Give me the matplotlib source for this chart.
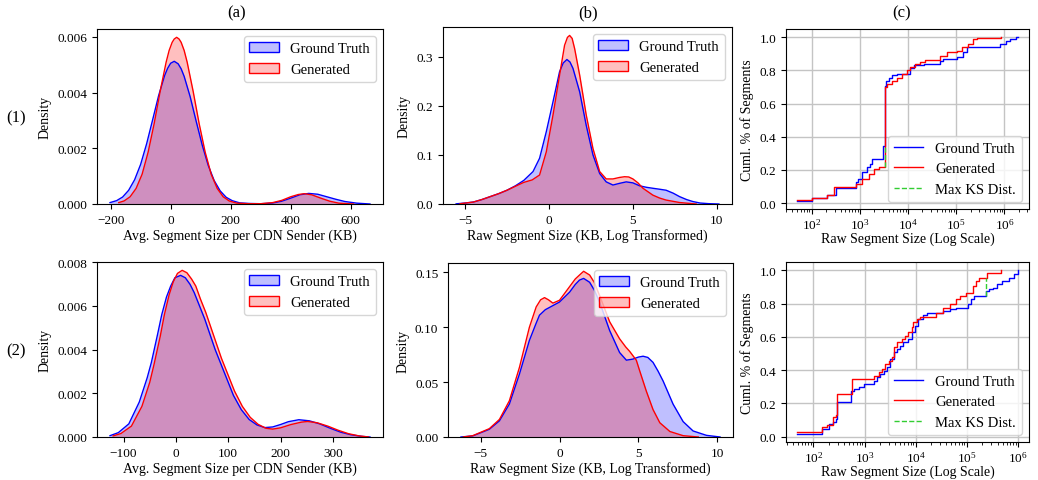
import matplotlib.pyplot as plt
from matplotlib.colors import to_rgba
from matplotlib.patches import Patch
from matplotlib.ticker import MultipleLocator

plt.rcParams["font.family"] = ["Liberation Serif", "DejaVu Serif"]
plt.rcParams["mathtext.fontset"] = "stix"
plt.rcParams["font.size"] = 10
plt.rcParams["xtick.labelsize"] = 9.5
plt.rcParams["ytick.labelsize"] = 9.5

GT_COLOR = "blue"
GEN_COLOR = "red"
KS_COLOR = "limegreen"

# ---- row 1, column (a): avg segment size per CDN sender, density
a1_gt_x = [-202, -180, -160, -140, -120, -100, -80, -60, -40, -20, -10, 0, 12, 25, 35, 45, 65, 85,
           105, 125, 145, 165, 185, 205, 230, 260, 300, 340, 370, 400, 430, 460, 490, 520, 550,
           580, 620, 664]
a1_gt_y = [0.00005, 0.00012, 0.00025, 0.00049, 0.00087, 0.00142, 0.00216, 0.00302, 0.00389,
           0.00461, 0.00487, 0.00505, 0.00512, 0.00503, 0.00485, 0.00458, 0.00385, 0.00297,
           0.00212, 0.00139, 0.00084, 0.00047, 0.00024, 0.00012, 0.00004, 0.00002, 0.00001,
           0.000035, 0.0001, 0.00021, 0.00033, 0.00038, 0.00035, 0.00026, 0.00017, 0.00009,
           0.00003, 0.0]
a1_gen_x = [-173, -155, -135, -115, -95, -75, -55, -35, -15, -5, 5, 12, 20, 28, 35, 45, 55, 75,
            95, 115, 135, 155, 175, 195, 220, 260, 300, 340, 370, 400, 425, 445, 470, 500, 530,
            560, 609]
a1_gen_y = [0.00005, 0.00011, 0.00026, 0.00056, 0.00107, 0.00186, 0.00288, 0.00404, 0.00509,
            0.00551, 0.0058, 0.00592, 0.00598, 0.00592, 0.0058, 0.00551, 0.00509, 0.00404,
            0.00288, 0.00186, 0.00107, 0.00056, 0.00026, 0.00011, 0.00003, 0.00001, 0.00001,
            0.00005, 0.00013, 0.00026, 0.00034, 0.00037, 0.00033, 0.00021, 0.0001, 0.00003, 0.0]

# ---- row 2, column (a)
a2_gt_x = [-126, -110, -90, -70, -55, -47, -35, -27, -18, -10, -2, 9, 18, 27, 35, 45, 55, 65,
           75, 85, 95, 110, 125, 140, 155, 170, 185, 200, 215, 235, 255, 275, 295, 315, 335, 355,
           371]
a2_gt_y = [0.00006, 0.0002, 0.0006, 0.0016, 0.0027, 0.0034, 0.0047, 0.0056, 0.0064, 0.0069,
           0.00728, 0.00739, 0.00728, 0.00698, 0.0066, 0.006, 0.0054, 0.0047, 0.0040, 0.0034,
           0.0028, 0.0019, 0.00125, 0.0008, 0.00055, 0.00043, 0.00046, 0.00057, 0.0007,
           0.00079, 0.00074, 0.0006, 0.0004, 0.00022, 0.0001, 0.00003, 0.0]
a2_gen_x = [-120, -105, -85, -65, -50, -42, -30, -22, -13, -5, 3, 12, 21, 30, 38, 47, 57, 67,
            77, 87, 97, 112, 127, 142, 157, 172, 185, 200, 220, 240, 252, 270, 290, 310, 330,
            350, 368]
a2_gen_y = [0.00005, 0.00016, 0.0005, 0.0014, 0.0025, 0.0033, 0.0046, 0.0056, 0.0065, 0.0071,
            0.00748, 0.00762, 0.00751, 0.00722, 0.0069, 0.0063, 0.0057, 0.005, 0.0043, 0.0036,
            0.003, 0.0021, 0.0014, 0.0009, 0.00058, 0.0004, 0.00036, 0.00042, 0.00057, 0.00068,
            0.00071, 0.00065, 0.0005, 0.00031, 0.00015, 0.00005, 0.0]

# ---- row 1, column (b): raw segment size, log transformed
b1_gt_x = [-5.53, -5.0, -4.5, -4.0, -3.5, -3.0, -2.5, -2.0, -1.5, -0.95, -0.56, -0.16, 0.24,
           0.63, 0.85, 1.07, 1.25, 1.43, 1.83, 2.22, 2.62, 3.02, 3.41, 3.81, 4.2, 4.6, 5.0, 5.4,
           5.8, 6.19, 6.6, 6.98, 7.4, 7.78, 8.2, 8.57, 9.0, 9.5, 10.12]
b1_gt_y = [0.0003, 0.002, 0.004, 0.009, 0.015, 0.021, 0.028, 0.037, 0.048, 0.066, 0.093, 0.147,
           0.208, 0.269, 0.287, 0.294, 0.289, 0.276, 0.228, 0.16, 0.1, 0.062, 0.045, 0.0386,
           0.042, 0.045, 0.043, 0.037, 0.034, 0.032, 0.03, 0.028, 0.022, 0.015, 0.009, 0.005,
           0.002, 0.0007, 0.0]
b1_gen_x = [-5.3, -4.5, -4.0, -3.5, -3.0, -2.5, -2.0, -1.5, -1.0, -0.56, -0.16, 0.24, 0.63,
            0.93, 1.1, 1.23, 1.38, 1.53, 1.83, 2.22, 2.62, 3.02, 3.41, 3.81, 4.2, 4.5, 4.75, 5.0,
            5.3, 5.6, 6.19, 6.6, 6.98, 7.78, 8.77]
b1_gen_y = [0.0005, 0.004, 0.009, 0.015, 0.021, 0.028, 0.036, 0.044, 0.049, 0.059, 0.106, 0.181,
            0.262, 0.323, 0.339, 0.343, 0.337, 0.316, 0.262, 0.181, 0.113, 0.066, 0.051, 0.051,
            0.054, 0.0555, 0.055, 0.051, 0.043, 0.032, 0.018, 0.012, 0.008, 0.003, 0.0]

# ---- row 2, column (b)
b2_gt_x = [-6.25, -5.5, -4.45, -3.81, -3.18, -2.54, -1.91, -1.5, -1.27, -0.9, -0.64, 0.0, 0.64,
           1.0, 1.27, 1.53, 1.91, 2.2, 2.54, 3.18, 3.81, 4.24, 4.66, 5.0, 5.3, 5.6, 5.93, 6.25,
           6.57, 7.2, 7.84, 8.47, 9.32, 10.18]
b2_gt_y = [0.0, 0.001, 0.007, 0.0147, 0.03, 0.0574, 0.088, 0.103, 0.111, 0.116, 0.118, 0.123,
           0.132, 0.139, 0.143, 0.1445, 0.141, 0.134, 0.123, 0.097, 0.077, 0.070, 0.071, 0.0728,
           0.0736, 0.0725, 0.068, 0.06, 0.051, 0.030, 0.014, 0.0055, 0.0015, 0.0]
b2_gen_x = [-6.1, -5.5, -4.45, -3.81, -3.18, -2.54, -1.91, -1.48, -1.2, -0.95, -0.7, -0.42, 0.0,
            0.64, 1.0, 1.27, 1.53, 1.91, 2.2, 2.54, 3.18, 3.81, 4.2, 4.45, 4.87, 5.08, 5.5, 5.93,
            6.36, 7.0, 7.84, 8.8]
b2_gen_y = [0.0, 0.0012, 0.0076, 0.016, 0.033, 0.0635, 0.100, 0.1185, 0.125, 0.127, 0.125,
            0.122, 0.1246, 0.137, 0.144, 0.1476, 0.151, 0.1476, 0.141, 0.129, 0.105, 0.0895,
            0.082, 0.078, 0.070, 0.0605, 0.042, 0.025, 0.013, 0.005, 0.0012, 0.0]

# ---- column (c): cumulative fraction of segments vs raw size (KB), step points
c1_gt_size = [50, 100, 207, 318, 820, 916, 1127, 1383, 1620, 1811, 3055, 3410, 3575, 3990,
              4675, 5930, 11170, 13090, 21030, 46400, 54400, 102400, 140500, 164500, 192800,
              801000, 1099000, 1288000, 1766000, 1914000]
c1_gt_frac = [0.014, 0.03, 0.048, 0.094, 0.125, 0.145, 0.185, 0.215, 0.235, 0.265, 0.345, 0.707,
              0.737, 0.757, 0.773, 0.777, 0.817, 0.833, 0.841, 0.857, 0.867, 0.88, 0.908, 0.938,
              0.942, 0.96, 0.978, 0.99, 1.0, 1.0]
c1_gen_size = [50, 100, 207, 293, 820, 1127, 1546, 1960, 2485, 3410, 3690, 4675, 5930, 7520,
               9530, 11170, 14160, 17950, 22750, 46400, 63700, 102400, 129700, 178000, 226000,
               264700, 867000]
c1_gen_frac = [0.02, 0.03, 0.05, 0.098, 0.115, 0.145, 0.175, 0.205, 0.22, 0.697, 0.717, 0.737,
               0.757, 0.777, 0.80, 0.82, 0.84, 0.851, 0.861, 0.888, 0.908, 0.918, 0.938, 0.958,
               0.988, 0.998, 1.0]
c1_ks_x = 3300
c1_ks_y = [0.22, 0.345]

c2_gt_size = [48, 145, 204, 237, 275, 296, 552, 622, 777, 970, 1517, 1760, 2040, 2366, 2746,
              3186, 3696, 4285, 4977, 5768, 7211, 8375, 9706, 11270, 14070, 16330, 34280, 46210,
              62230, 104500, 121300, 140600, 236600, 274500, 318500, 398000, 497700, 670000,
              837000, 1000000]
c2_gt_frac = [0.018, 0.048, 0.078, 0.088, 0.108, 0.208, 0.277, 0.287, 0.297, 0.317, 0.337, 0.357,
              0.377, 0.397, 0.417, 0.467, 0.507, 0.527, 0.547, 0.567, 0.587, 0.627, 0.667, 0.707,
              0.733, 0.741, 0.756, 0.766, 0.772, 0.796, 0.826, 0.846, 0.876, 0.886, 0.896, 0.916,
              0.936, 0.956, 0.976, 1.0]
c2_gen_size = [48, 145, 189, 237, 275, 287, 577, 1517, 1893, 2198, 2547, 2957, 3430, 3696, 4285,
               5355, 6223, 7211, 8375, 9016, 10450, 12130, 25470, 34280, 46210, 62230, 72130,
               97060, 130700, 151700, 175800, 243800, 462000]
c2_gen_frac = [0.026, 0.058, 0.068, 0.118, 0.128, 0.257, 0.347, 0.367, 0.387, 0.407, 0.437,
               0.457, 0.477, 0.537, 0.567, 0.587, 0.607, 0.627, 0.657, 0.687, 0.707, 0.72, 0.741,
               0.776, 0.80, 0.826, 0.846, 0.866, 0.906, 0.936, 0.956, 0.986, 1.0]
c2_ks_x = 236600
c2_ks_y = [0.846, 0.956]

KDE_XLABEL_A = "Avg. Segment Size per CDN Sender (KB)"
KDE_XLABEL_B = "Raw Segment Size (KB, Log Transformed)"
CDF_XLABEL = "Raw Segment Size (Log Scale)"
CDF_YLABEL = "Cuml. % of Segments"

W, H = 1038, 481
fig = plt.figure(figsize=(W / 100, H / 100), dpi=100)


def add_axes(left, top, right, bottom):
    # pixel box of the reference -> figure fraction
    return fig.add_axes([left / W, 1 - bottom / H, (right - left) / W, (bottom - top) / H])


def kde_panel(ax, gt_x, gt_y, gen_x, gen_y, xlabel):
    series = [(gt_x, gt_y, GT_COLOR, "Ground Truth"), (gen_x, gen_y, GEN_COLOR, "Generated")]
    handles = []
    for x, y, c, lab in series:
        ax.fill_between(x, y, color=c, alpha=0.25, linewidth=0)
        ax.plot(x, y, color=c, linewidth=1.0)
        handles.append(Patch(facecolor=to_rgba(c, 0.25), edgecolor=c, linewidth=1.0, label=lab))
    ax.set_ylim(0, 1.05 * max(max(gt_y), max(gen_y)))
    ax.set_xlabel(xlabel, labelpad=2)
    ax.set_ylabel("Density")
    ax.legend(handles=handles, loc="upper right", fontsize=10.5)


def cdf_panel(ax, gt_s, gt_f, gen_s, gen_f, ks_x, ks_y):
    ax.step(gt_s, gt_f, where="post", color=GT_COLOR, linewidth=1.0, label="Ground Truth")
    ax.step(gen_s, gen_f, where="post", color=GEN_COLOR, linewidth=1.0, label="Generated")
    ax.plot([ks_x, ks_x], ks_y, linestyle="--", color=KS_COLOR, linewidth=1.0,
            label="Max KS Dist.")
    ax.set_xscale("log")
    ax.grid(True, color="#c4c4c4", linewidth=1.0)
    ax.tick_params(axis="x", pad=2)
    ax.set_xlabel(CDF_XLABEL, labelpad=0)
    ax.set_ylabel(CDF_YLABEL)
    ax.legend(loc="lower right", fontsize=10.5)


ax_a1 = add_axes(97, 30, 383, 205)
ax_b1 = add_axes(443, 28, 732, 205)
ax_c1 = add_axes(786, 30, 1029, 210)
ax_a2 = add_axes(97, 263, 383, 438)
ax_b2 = add_axes(448, 264, 733, 438)
ax_c2 = add_axes(786, 263, 1029, 443)

kde_panel(ax_a1, a1_gt_x, a1_gt_y, a1_gen_x, a1_gen_y, KDE_XLABEL_A)
kde_panel(ax_b1, b1_gt_x, b1_gt_y, b1_gen_x, b1_gen_y, KDE_XLABEL_B)
kde_panel(ax_a2, a2_gt_x, a2_gt_y, a2_gen_x, a2_gen_y, KDE_XLABEL_A)
kde_panel(ax_b2, b2_gt_x, b2_gt_y, b2_gen_x, b2_gen_y, KDE_XLABEL_B)
for ax in (ax_b1, ax_b2):
    ax.xaxis.set_major_locator(MultipleLocator(5))
cdf_panel(ax_c1, c1_gt_size, c1_gt_frac, c1_gen_size, c1_gen_frac, c1_ks_x, c1_ks_y)
cdf_panel(ax_c2, c2_gt_size, c2_gt_frac, c2_gen_size, c2_gen_frac, c2_ks_x, c2_ks_y)

for label, px in (("(a)", 237), ("(b)", 588), ("(c)", 902)):
    fig.text(px / W, 1 - 13 / H, label, ha="center", va="center", fontsize=12)
for label, py in (("(1)", 118), ("(2)", 351)):
    fig.text(16 / W, 1 - py / H, label, ha="center", va="center", fontsize=12)

fig.savefig("out.png", dpi=100)
